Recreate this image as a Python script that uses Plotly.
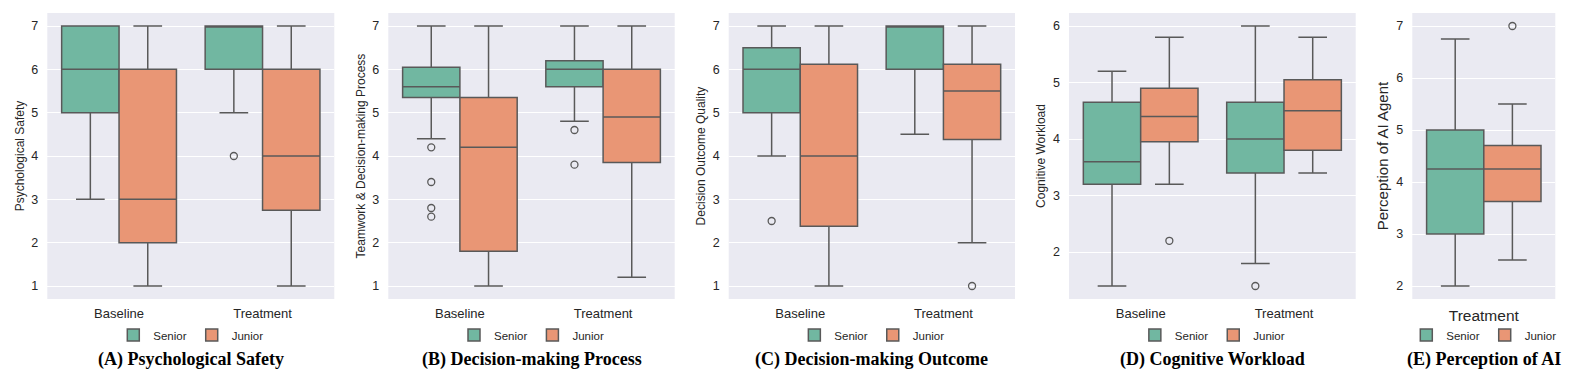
import plotly.graph_objects as go

# categories on the x axis
phases = ["Baseline", "Treatment"]
phase_e = ["Treatment"]
groups = ["Senior", "Junior"]

# box stats per category: [lowerfence, q1, median, q3, upperfence]
a_senior = [[3, 5, 6, 7, 7], [5, 6, 7, 7, 7]]
a_junior = [[1, 2, 3, 6, 7], [1, 2.75, 4, 6, 7]]
a_senior_out = [[], [4]]
a_junior_out = [[], []]

b_senior = [[4.4, 5.35, 5.6, 6.05, 7], [4.8, 5.6, 6.0, 6.2, 7]]
b_junior = [[1, 1.8, 4.2, 5.35, 7], [1.2, 3.85, 4.9, 6.0, 7]]
b_senior_out = [[4.2, 3.4, 2.8, 2.6], [4.6, 3.8]]
b_junior_out = [[], []]

c_senior = [[4, 5, 6, 6.5, 7], [4.5, 6, 7, 7, 7]]
c_junior = [[1, 2.38, 4, 6.12, 7], [2, 4.38, 5.5, 6.12, 7]]
c_senior_out = [[2.5], []]
c_junior_out = [[], [1]]

d_senior = [[1.4, 3.2, 3.6, 4.65, 5.2], [1.8, 3.4, 4.0, 4.65, 6.0]]
d_junior = [[3.2, 3.95, 4.4, 4.9, 5.8], [3.4, 3.8, 4.5, 5.05, 5.8]]
d_senior_out = [[], [1.4]]
d_junior_out = [[2.2], []]

e_senior = [[2, 3, 4.25, 5, 6.75]]
e_junior = [[2.5, 3.625, 4.25, 4.7, 5.5]]
e_senior_out = [[]]
e_junior_out = [[7]]

ylabels = ["Psychological Safety", "Teamwork & Decision-making Process",
           "Decision Outcome Quality", "Cognitive Workload", "Perception of AI Agent"]
titles = ["(A) Psychological Safety", "(B) Decision-making Process",
          "(C) Decision-making Outcome", "(D) Cognitive Workload", "(E) Perception of AI"]

panels = [
    (phases, a_senior, a_junior, a_senior_out, a_junior_out, [0.7, 7.3], 1),
    (phases, b_senior, b_junior, b_senior_out, b_junior_out, [0.7, 7.3], 1),
    (phases, c_senior, c_junior, c_senior_out, c_junior_out, [0.7, 7.3], 1),
    (phases, d_senior, d_junior, d_senior_out, d_junior_out, [1.17, 6.23], 2),
    (phase_e, e_senior, e_junior, e_senior_out, e_junior_out, [1.75, 7.25], 2),
]

W, H = 1578, 372
# plot-area pixel spans of each panel
spans = [(47.3, 334.3), (388.3, 674.7), (728.7, 1015), (1069, 1355.7), (1412.3, 1555.3)]

fills = {"Senior": "#71b7a1", "Junior": "#e99675"}
line_col = "#595959"
offsets = {"Senior": -0.2, "Junior": 0.2}
font = "Liberation Sans, Arial, sans-serif"

fig = go.Figure()
layout = {}
for i, (cats, sen, jun, sen_out, jun_out, yr, ymin_tick) in enumerate(panels):
    n = i + 1
    xa = "x" if n == 1 else f"x{n}"
    ya = "y" if n == 1 else f"y{n}"
    lg = "legend" if n == 1 else f"legend{n}"
    for g, stats, outs in (("Senior", sen, sen_out), ("Junior", jun, jun_out)):
        xs = [k + offsets[g] for k in range(len(cats))]
        fig.add_trace(go.Box(
            x=xs,
            lowerfence=[s[0] for s in stats],
            q1=[s[1] for s in stats],
            median=[s[2] for s in stats],
            q3=[s[3] for s in stats],
            upperfence=[s[4] for s in stats],
            width=0.4,
            whiskerwidth=0.5,
            fillcolor=fills[g],
            line=dict(color=line_col, width=1.5),
            name=g, legend=lg, legendgroup=f"{g}{n}",
            xaxis=xa, yaxis=ya, hoverinfo="skip",
        ))
        ox, oy = [], []
        for k, vals in enumerate(outs):
            for v in vals:
                ox.append(k + offsets[g])
                oy.append(v)
        fig.add_trace(go.Scatter(
            x=ox, y=oy, mode="markers", showlegend=False,
            marker=dict(symbol="circle-open", size=7, color=line_col, line=dict(width=1.3)),
            xaxis=xa, yaxis=ya, hoverinfo="skip",
        ))

    x0, x1 = spans[i]
    big = n == 5
    layout[f"xaxis{'' if n == 1 else n}"] = dict(
        domain=[x0 / W, x1 / W], anchor=ya, range=[-0.5, len(cats) - 0.5],
        tickvals=list(range(len(cats))), ticktext=cats, showgrid=False, zeroline=False,
        tickfont=dict(family=font, size=15.5 if big else 13, color="#262626"),
        ticks="", ticklabelstandoff=5, automargin=True,
    )
    layout[f"yaxis{'' if n == 1 else n}"] = dict(
        domain=[0, 1], anchor=xa, range=yr, dtick=1, tick0=ymin_tick,
        showgrid=True, gridcolor="white", gridwidth=1.3, zeroline=False,
        tickfont=dict(family=font, size=12.5, color="#262626"),
        ticks="", ticklabelstandoff=8,
        title=dict(text=ylabels[i], standoff=4,
                   font=dict(family=font, size=15 if big else 12, color="#262626")),
        automargin=True,
    )
    layout[lg] = dict(
        orientation="h", x=(x0 + x1) / 2 / W, xanchor="center",
        y=1 - 335 / H, yanchor="middle", xref="container", yref="container",
        font=dict(family=font, size=11.5, color="#262626"), bgcolor="rgba(0,0,0,0)",
        itemclick=False, itemdoubleclick=False, tracegroupgap=0,
    )

fig.update_layout(**layout)

annotations = []
for i, t in enumerate(titles):
    x0, x1 = spans[i]
    annotations.append(dict(
        text=f"<b>{t}</b>", x=(x0 + x1) / 2 / W, y=-(359 - 299) / 286, xref="paper", yref="paper",
        xanchor="center", yanchor="middle", showarrow=False,
        font=dict(family="Liberation Serif, Times New Roman, serif", size=18, color="black"),
    ))

fig.update_layout(
    width=W, height=H,
    margin=dict(l=0, r=0, t=13, b=73, autoexpand=False),
    plot_bgcolor="#eaeaf2", paper_bgcolor="white",
    showlegend=True,
    annotations=annotations,
)

# drop the browser's default body margin so the figure sits at the window corner
fig.write_html("out.html", config={"displayModeBar": False},
               post_script="document.body.style.margin='0';")
